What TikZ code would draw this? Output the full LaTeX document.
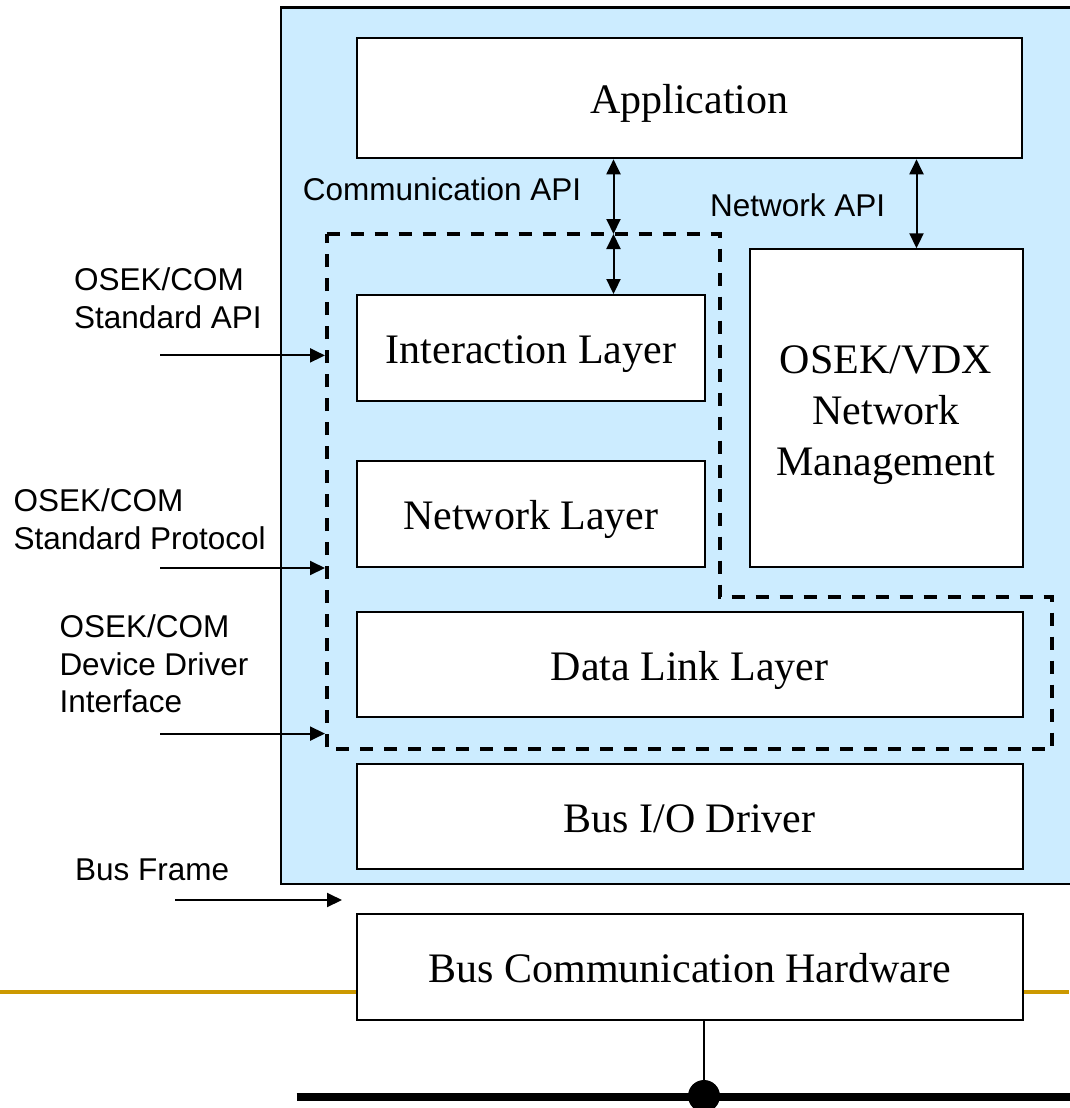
\documentclass[tikz,border=0pt]{standalone}
\usepackage{fontspec}
\setmainfont{Liberation Serif}
\setsansfont{Liberation Sans}
\usetikzlibrary{arrows.meta}
\definecolor{skyfill}{RGB}{204,236,255}
\definecolor{goldline}{RGB}{204,153,0}
\begin{document}
\begin{tikzpicture}[x=1pt,y=-1pt,
  boxbase/.style={draw, line width=2pt, fill=white, inner sep=0pt,
    font=\fontsize{42}{51}\selectfont, align=center},
  layer/.style={boxbase, text height=40pt, text depth=9pt},
  lbl/.style={font=\sffamily\fontsize{31.5}{37.6}\selectfont, inner sep=0pt, align=left},
  dbl/.style={line width=2pt, {Triangle[length=15pt,width=14pt]}-{Triangle[length=15pt,width=14pt]}},
  arr/.style={line width=2pt, -{Triangle[length=15pt,width=14pt]}},
  bound/.style={line width=4pt, dash pattern=on 13pt off 11pt},
  busline/.style={line width=8pt},
  thin/.style={line width=1.5pt}
]
\useasboundingbox (0,0) rectangle (1069,1108);

% main light-blue area
\draw[fill=skyfill, line width=2.5pt] (281,7.5) rectangle (1080,884);

% dashed OSEK/COM boundary
\draw[bound] (326.5,234) -- (720,234) -- (720,597) -- (1052,597) -- (1052,749) -- (326.5,749) -- cycle;

% orange slide line
\draw[goldline, line width=4pt] (0,992) -- (1069,992);

% layer boxes
\node[layer, minimum width=665.5pt, minimum height=120.6pt] (app) at (689.25,98) {Application};
\node[layer, minimum width=348pt, minimum height=105.7pt] (il) at (531,347.9) {Interaction Layer};
\node[layer, minimum width=348.5pt, minimum height=106pt] (nl) at (530.75,514) {Network Layer};
\node[boxbase, minimum width=273pt, minimum height=318pt] (nm) at (886,408.3)
  {\rule{0pt}{41pt}OSEK/VDX\\Network\\Management};
\node[layer, minimum width=666pt, minimum height=105pt] (dll) at (689.5,664.5) {Data Link Layer};
\node[layer, minimum width=666pt, minimum height=105pt] (bio) at (689.5,816.5) {Bus I/O Driver};
\node[layer, minimum width=666.5pt, minimum height=106pt] (bch) at (689.75,967) {Bus Communication Hardware};

% API arrows
\coordinate (cmid) at (613.5,234);
\coordinate (nmx) at (916.5,0);
\draw[dbl] (cmid |- app.south) -- (cmid);
\draw[dbl] (cmid) -- (cmid |- il.north);
\draw[dbl] (app.south -| nmx) -- (nm.north -| nmx);

% labels inside blue area
\node[lbl, anchor=base west] (capi) at (302.6,200) {Communication API};
\node[lbl, anchor=base west] (napi) at (710,216.7) {Network API};

% left labels
\node[lbl, anchor=north west] (lapi) at (74,267.7) {OSEK/COM\\Standard API};
\node[lbl, anchor=north west] (lprot) at (13.3,488.7) {OSEK/COM\\Standard Protocol};
\node[lbl, anchor=north west] (ldrv) at (59.3,614.7) {OSEK/COM\\Device Driver\\Interface};
\node[lbl, anchor=base west] (lbus) at (75,880) {Bus Frame};

% left arrows
\coordinate (a1s) at (160,355.4);  \coordinate (a1e) at (325,355.4);
\coordinate (a2s) at (160,568);    \coordinate (a2e) at (325,568);
\coordinate (a3s) at (160,733.6);  \coordinate (a3e) at (325,733.6);
\coordinate (a4s) at (175,900);    \coordinate (a4e) at (342,900);
\draw[arr] (a1s) -- (a1e);
\draw[arr] (a2s) -- (a2e);
\draw[arr] (a3s) -- (a3e);
\draw[arr] (a4s) -- (a4e);

% bus
\coordinate (busl) at (296.5,1097);
\coordinate (busr) at (1080,1097);
\draw[busline] (busl) -- (busr);
\node[circle, fill=black, inner sep=0pt, minimum size=32pt] (tap) at (704,1096) {};
\draw[thin] (bch.south -| tap) -- (tap.center);
\end{tikzpicture}
\end{document}
